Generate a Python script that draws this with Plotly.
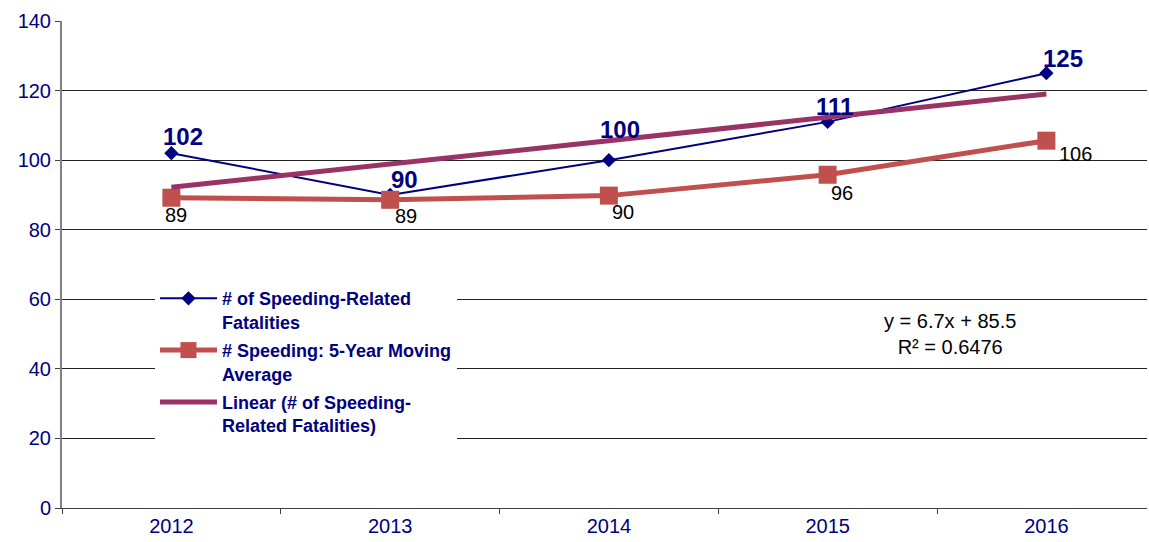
import plotly.graph_objects as go

years = ["2012", "2013", "2014", "2015", "2016"]
fatalities = [102, 90, 100, 111, 125]
moving_avg = [89.2, 88.6, 89.8, 95.8, 105.6]
moving_avg_labels = ["89", "89", "90", "96", "106"]
trend = [92.2, 98.9, 105.6, 112.3, 119.0]
y_ticks = [0, 20, 40, 60, 80, 100, 120, 140]

# label offsets in pixels (style, not data)
fat_dx = [12, 14, 11, 7, 17]
fat_dy = [17, 15, 31, 15, 15]
ma_dx = [5, 16, 14, 14, 29]
ma_dy = [-17, -16, -16, -18, -13]

NAVY = "#000080"
RED = "#C0504D"
PURPLE = "#993366"
FONT = "Liberation Sans, Arial, sans-serif"

fig = go.Figure()
fig.add_trace(go.Scatter(
    x=years, y=fatalities, mode="lines+markers",
    name="# of Speeding-Related<br>Fatalities",
    line=dict(color=NAVY, width=2),
    marker=dict(symbol="diamond", size=11, color=NAVY),
    legendgroup="a",
))
fig.add_trace(go.Scatter(
    x=years, y=moving_avg, mode="lines+markers",
    name="# Speeding: 5-Year Moving<br>Average",
    line=dict(color=RED, width=5),
    marker=dict(symbol="square", size=18, color=RED),
    legendgroup="b",
))
fig.add_trace(go.Scatter(
    x=years, y=trend, mode="lines",
    name="Linear (# of Speeding-<br>Related Fatalities)",
    line=dict(color=PURPLE, width=5),
    legendgroup="c",
))

for i, v in enumerate(fatalities):
    fig.add_annotation(x=i, y=v, text=f"<b>{v}</b>", showarrow=False,
                       xshift=fat_dx[i], yshift=fat_dy[i],
                       font=dict(family=FONT, size=24, color=NAVY))
for i, v in enumerate(moving_avg):
    fig.add_annotation(x=i, y=v, text=moving_avg_labels[i], showarrow=False,
                       xshift=ma_dx[i], yshift=ma_dy[i],
                       font=dict(family=FONT, size=20, color="black"))

fig.add_annotation(xref="paper", yref="paper", x=0.818, y=0.358,
                   xanchor="center", yanchor="middle",
                   text="y = 6.7x + 85.5<br>R² = 0.6476", showarrow=False,
                   align="center", font=dict(family=FONT, size=20, color="black"))

fig.update_layout(
    width=1149, height=542,
    margin=dict(l=62, r=2, t=21, b=34),
    paper_bgcolor="white", plot_bgcolor="white",
    font=dict(family=FONT, color=NAVY),
    showlegend=True,
    legend=dict(
        x=0.0857, y=0.468, xanchor="left", yanchor="top",
        bgcolor="white", borderwidth=0, valign="top",
        font=dict(family=FONT, size=18, color=NAVY, weight="bold"),
        tracegroupgap=2, itemwidth=57,
    ),
    xaxis=dict(
        type="category", range=[-0.5, 4.46],
        showgrid=False, showline=True, linecolor="#404040", linewidth=1,
        ticks="outside", tickson="boundaries", ticklen=5, tickcolor="#404040",
        tickfont=dict(family=FONT, size=20, color=NAVY),
    ),
    yaxis=dict(
        range=[0, 140], tickvals=y_ticks,
        showgrid=True, gridcolor="#222222", gridwidth=1,
        showline=True, linecolor="#808080", linewidth=2,
        ticks="outside", ticklen=5, tickcolor="#404040",
        tickfont=dict(family=FONT, size=20, color=NAVY),
        zeroline=False,
    ),
)

fig.write_html("out.html", config={"displayModeBar": False},
               post_script="document.body.style.margin='0';document.body.style.padding='0';")
